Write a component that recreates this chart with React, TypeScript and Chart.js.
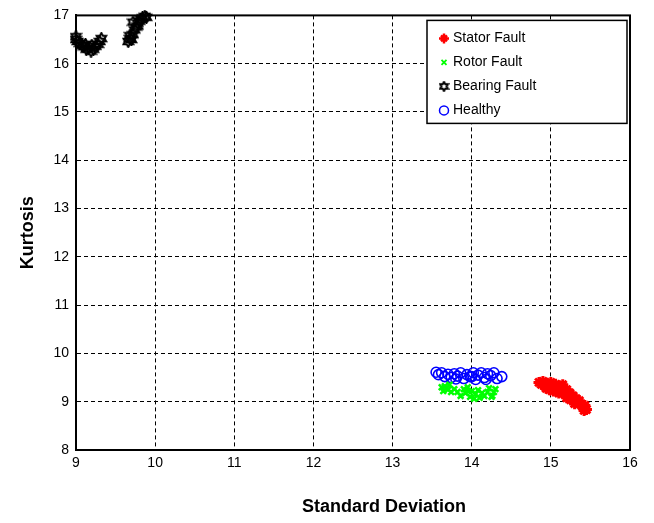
import React, { useEffect, useRef } from 'react';
import { Chart, registerables } from 'chart.js';

Chart.register(...registerables);

const seriesNames = ['Stator Fault', 'Rotor Fault', 'Bearing Fault', 'Healthy'];

const statorX = [14.85, 14.88, 14.9, 14.92, 14.95, 14.97, 14.98, 15.0, 15.02, 15.03, 15.05, 15.06, 15.08, 15.1, 15.12, 15.13, 15.15, 15.16, 15.18, 15.2, 15.22, 15.24, 15.26, 15.28, 15.3, 15.32, 15.34, 15.36, 15.38, 15.4, 15.43, 15.45, 14.94, 15.0, 15.1, 15.2, 15.3, 15.42, 15.25];
const statorY = [9.4, 9.36, 9.42, 9.33, 9.38, 9.3, 9.25, 9.34, 9.28, 9.22, 9.3, 9.36, 9.25, 9.32, 9.2, 9.28, 9.35, 9.22, 9.15, 9.25, 9.12, 9.18, 9.08, 9.12, 9.02, 9.06, 8.98, 9.02, 8.94, 8.9, 8.92, 8.84, 9.28, 9.4, 9.18, 9.08, 8.96, 8.82, 9.04];

const rotorX = [13.62, 13.64, 13.66, 13.7, 13.72, 13.74, 13.78, 13.82, 13.86, 13.9, 13.92, 13.95, 13.98, 14.0, 14.03, 14.05, 14.08, 14.1, 14.13, 14.16, 14.2, 14.22, 14.25, 14.28, 14.3, 13.68, 13.96, 14.26];
const rotorY = [9.3, 9.22, 9.32, 9.25, 9.35, 9.2, 9.26, 9.2, 9.12, 9.26, 9.18, 9.3, 9.1, 9.22, 9.06, 9.16, 9.24, 9.08, 9.18, 9.12, 9.2, 9.28, 9.1, 9.2, 9.26, 9.28, 9.22, 9.12];

const bearingX = [9.0, 9.0, 9.02, 9.05, 9.08, 9.1, 9.13, 9.16, 9.19, 9.22, 9.25, 9.28, 9.3, 9.32, 9.2, 9.12, 9.66, 9.68, 9.7, 9.72, 9.74, 9.76, 9.78, 9.8, 9.82, 9.84, 9.87, 9.89, 9.78, 9.72, 9.68];
const bearingY = [16.56, 16.5, 16.46, 16.42, 16.38, 16.35, 16.3, 16.32, 16.26, 16.3, 16.36, 16.4, 16.46, 16.52, 16.38, 16.4, 16.46, 16.52, 16.5, 16.6, 16.7, 16.76, 16.84, 16.88, 16.92, 16.95, 16.98, 16.96, 16.78, 16.86, 16.58];

const healthyX = [13.55, 13.58, 13.62, 13.66, 13.7, 13.74, 13.78, 13.82, 13.86, 13.9, 13.94, 13.98, 14.02, 14.05, 14.08, 14.12, 14.16, 14.2, 14.24, 14.28, 14.32, 14.38, 13.8, 14.0, 14.18];
const healthyY = [9.61, 9.56, 9.6, 9.52, 9.57, 9.5, 9.58, 9.53, 9.6, 9.48, 9.56, 9.52, 9.6, 9.46, 9.55, 9.6, 9.5, 9.58, 9.54, 9.6, 9.48, 9.52, 9.47, 9.52, 9.46];

const xTicks = [9, 10, 11, 12, 13, 14, 15, 16];
const yTicks = [8, 9, 10, 11, 12, 13, 14, 15, 16, 17];

const xTitle = 'Standard Deviation';
const yTitle = 'Kurtosis';

const FONT = '"Liberation Sans", Arial, Helvetica, sans-serif';

function makeHexagram(size: number, color: string) {
  const c = document.createElement('canvas');
  c.width = size;
  c.height = size;
  const ctx = c.getContext('2d')!;
  const cx = size / 2;
  const cy = size / 2;
  const R = size / 2 - 1;
  const r = R / Math.sqrt(3);
  ctx.beginPath();
  for (let i = 0; i < 12; i++) {
    const ang = -Math.PI / 2 + (i * Math.PI) / 6;
    const rr = i % 2 === 0 ? R : r;
    const px = cx + rr * Math.cos(ang);
    const py = cy + rr * Math.sin(ang);
    if (i === 0) ctx.moveTo(px, py);
    else ctx.lineTo(px, py);
  }
  ctx.closePath();
  ctx.strokeStyle = color;
  ctx.lineWidth = 2;
  ctx.stroke();
  return c;
}

function toPoints(xs: number[], ys: number[]) {
  return xs.map((x, i) => ({ x, y: ys[i] }));
}

export default function App() {
  const ref = useRef<HTMLCanvasElement | null>(null);

  useEffect(() => {
    if (!ref.current) return;
    const hex = makeHexagram(13, '#000000');
    const hexSmall = makeHexagram(11, '#000000');

    const drawMarker = (ctx: CanvasRenderingContext2D, idx: number, x: number, y: number) => {
      ctx.save();
      ctx.setLineDash([]);
      if (idx === 0) {
        ctx.strokeStyle = '#ff0000';
        ctx.lineWidth = 2.5;
        const s = 5;
        ctx.beginPath();
        ctx.moveTo(x - s, y); ctx.lineTo(x + s, y);
        ctx.moveTo(x, y - s); ctx.lineTo(x, y + s);
        ctx.moveTo(x - 3, y - 3); ctx.lineTo(x + 3, y + 3);
        ctx.moveTo(x - 3, y + 3); ctx.lineTo(x + 3, y - 3);
        ctx.stroke();
      } else if (idx === 1) {
        ctx.strokeStyle = '#00ff00';
        ctx.lineWidth = 1.8;
        const s = 2.5;
        ctx.beginPath();
        ctx.moveTo(x - s, y - s); ctx.lineTo(x + s, y + s);
        ctx.moveTo(x - s, y + s); ctx.lineTo(x + s, y - s);
        ctx.stroke();
      } else if (idx === 2) {
        ctx.drawImage(hexSmall, x - 5.5, y - 5.5);
      } else {
        ctx.strokeStyle = '#0000ff';
        ctx.lineWidth = 1.5;
        ctx.beginPath();
        ctx.arc(x, y, 4.5, 0, Math.PI * 2);
        ctx.stroke();
      }
      ctx.restore();
    };

    const framePlugin = {
      id: 'frame',
      afterDraw(chart: any) {
        const { ctx, chartArea: a } = chart;
        ctx.save();
        ctx.setLineDash([]);
        ctx.strokeStyle = '#000';
        ctx.lineWidth = 2;
        ctx.strokeRect(a.left, a.top, a.right - a.left, a.bottom - a.top);

        // legend box
        const lx = a.right - 203;
        const ly = a.top + 5;
        const lw = 200;
        const lh = 103;
        ctx.fillStyle = '#fff';
        ctx.fillRect(lx, ly, lw, lh);
        ctx.lineWidth = 1.5;
        ctx.strokeRect(lx, ly, lw, lh);
        ctx.font = '14px ' + FONT;
        ctx.textAlign = 'left';
        ctx.textBaseline = 'middle';
        seriesNames.forEach((name, i) => {
          const yy = ly + 18 + i * 24;
          drawMarker(ctx, i, lx + 17, yy);
          ctx.fillStyle = '#000';
          ctx.fillText(name, lx + 26, yy);
        });

        // axis titles
        ctx.fillStyle = '#000';
        ctx.font = 'bold 18px ' + FONT;
        ctx.textAlign = 'center';
        ctx.textBaseline = 'middle';
        ctx.fillText(xTitle, (a.left + a.right) / 2 + 31, 507);
        ctx.translate(28, (a.top + a.bottom) / 2);
        ctx.rotate(-Math.PI / 2);
        ctx.fillText(yTitle, 0, 0);
        ctx.restore();
      },
    };

    const chart = new Chart(ref.current, {
      type: 'scatter',
      data: {
        datasets: [
          {
            label: seriesNames[0],
            data: toPoints(statorX, statorY),
            pointStyle: 'star',
            radius: 5.5,
            borderColor: '#ff0000',
            backgroundColor: '#ff0000',
            borderWidth: 3,
            clip: false,
          },
          {
            label: seriesNames[1],
            data: toPoints(rotorX, rotorY),
            pointStyle: 'crossRot',
            radius: 4,
            borderColor: '#00ff00',
            backgroundColor: '#00ff00',
            borderWidth: 2.5,
            clip: false,
          },
          {
            label: seriesNames[2],
            data: toPoints(bearingX, bearingY),
            pointStyle: hex as any,
            radius: 6.5,
            borderColor: '#000',
            backgroundColor: '#000',
            clip: false,
          },
          {
            label: seriesNames[3],
            data: toPoints(healthyX, healthyY),
            pointStyle: 'circle',
            radius: 5,
            borderColor: '#0000ff',
            backgroundColor: 'rgba(0,0,0,0)',
            borderWidth: 1.6,
            clip: false,
          },
        ] as any,
      },
      options: {
        responsive: false,
        animation: false,
        layout: { padding: { left: 0, top: 15, right: 24, bottom: 0 } },
        plugins: {
          legend: { display: false },
          tooltip: { enabled: false },
        },
        scales: {
          x: {
            type: 'linear',
            min: 9,
            max: 16,
            afterFit: (s: any) => { s.height = 73; },
            afterBuildTicks: (s: any) => { s.ticks = xTicks.map((v) => ({ value: v })); },
            ticks: {
              color: '#000',
              font: { family: FONT, size: 14 },
              padding: 5,
              maxRotation: 0,
              autoSkip: false,
            },
            grid: { color: '#000', lineWidth: 1, drawTicks: false },
            border: { display: true, color: '#000', width: 2, dash: [4, 3] },
          },
          y: {
            type: 'linear',
            min: 8,
            max: 17,
            afterFit: (s: any) => { s.width = 76; },
            afterBuildTicks: (s: any) => { s.ticks = yTicks.map((v) => ({ value: v })); },
            ticks: {
              color: '#000',
              font: { family: FONT, size: 14 },
              padding: 7,
              autoSkip: false,
            },
            grid: { color: '#000', lineWidth: 1, drawTicks: false },
            border: { display: true, color: '#000', width: 2, dash: [4, 3] },
          },
        },
      },
      plugins: [framePlugin],
    } as any);

    return () => chart.destroy();
  }, []);

  return (
    <div style={{ position: 'fixed', left: 0, top: 0, width: 654, height: 523, background: '#fff' }}>
      <canvas ref={ref} width={654} height={523} style={{ width: 654, height: 523 }} />
    </div>
  );
}
